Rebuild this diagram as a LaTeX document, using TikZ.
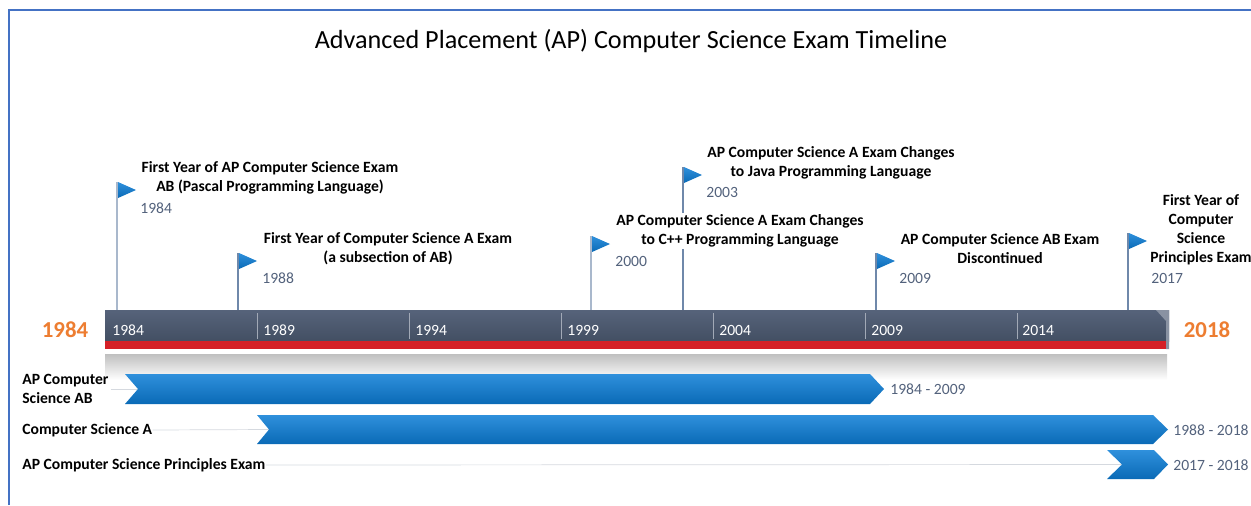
\documentclass[tikz,border=0pt]{standalone}
\usepackage{fontspec}
\setmainfont{Carlito}
\usepackage{xcolor}

\definecolor{framblue}{HTML}{4472C4}
\definecolor{slatetop}{HTML}{56637A}
\definecolor{slatebot}{HTML}{434F63}
\definecolor{barred}{HTML}{D42027}
\definecolor{chevtop}{HTML}{2F90DC}
\definecolor{chevbot}{HTML}{0A6AB6}
\definecolor{yeargray}{HTML}{53627C}
\definecolor{poleblue}{HTML}{6F88AA}
\definecolor{orangeyr}{HTML}{ED7D31}
\definecolor{linegray}{HTML}{D5D9DF}

\begin{document}
\begin{tikzpicture}[x=0.02cm, y=-0.02cm,
  evtitle/.style={font=\fontsize{8.9}{10.8}\selectfont\bfseries, align=center, fill=white, inner sep=1pt},
  evyear/.style={font=\fontsize{8.9}{10}\selectfont, text=yeargray, anchor=west, inner sep=0pt},
  ticklab/.style={font=\fontsize{8.9}{10}\selectfont, text=white, anchor=west, inner sep=0pt},
  rowlab/.style={font=\fontsize{8.9}{10.8}\selectfont\bfseries, align=left, anchor=west, inner sep=0pt},
  rangelab/.style={font=\fontsize{8.9}{10}\selectfont, text=yeargray, anchor=west, inner sep=0pt},
  endyear/.style={font=\fontsize{13}{14}\selectfont\bfseries, text=orangeyr},
  flagpole/.style={poleblue, line width=0.6pt},
  chevron/.style={top color=chevtop, bottom color=chevbot},
  flagtri/.style={top color=chevtop, bottom color=chevbot}]

  \useasboundingbox (0,0) rectangle (1251,505);

  % Draw the frame
  \draw[framblue, line width=1.2pt] (9,505) -- (9,10) -- (1251,10);

  % Title
  \node[font=\fontsize{14.9}{16}\selectfont] (title) at (631,41) {Advanced Placement (AP) Computer Science Exam Timeline};

  % Draw the time bar
  \shade[top color=slatetop, bottom color=slatebot] (105,310) rectangle (1169,341);
  \fill[barred] (105,341) rectangle (1166,349);
  \fill[slatetop!70!white] (1156,310) -- (1169,310) -- (1169,349) -- (1166,349) -- (1166,321) -- cycle;
  \shade[top color=gray!50, bottom color=white] (105,354) rectangle (1167,380);
  \coordinate (bartop) at (105,310);

  % tick separators and labels
  \draw[slatetop!55!white] (257,313) -- (257,339);
  \draw[slatetop!55!white] (409,313) -- (409,339);
  \draw[slatetop!55!white] (561,313) -- (561,339);
  \draw[slatetop!55!white] (713,313) -- (713,339);
  \draw[slatetop!55!white] (865,313) -- (865,339);
  \draw[slatetop!55!white] (1017,313) -- (1017,339);
  \node[ticklab] (k84) at (112,330) {1984};
  \node[ticklab] (k89) at (263,330) {1989};
  \node[ticklab] (k94) at (415,330) {1994};
  \node[ticklab] (k99) at (567,330) {1999};
  \node[ticklab] (k04) at (719,330) {2004};
  \node[ticklab] (k09) at (871,330) {2009};
  \node[ticklab] (k14) at (1022,330) {2014};

  % start and end years
  \node[endyear] (ystart) at (65,330) {1984};
  \node[endyear] (yend) at (1207,330) {2018};

  % flag poles
  \coordinate (p84) at (117,182);
  \coordinate (p88) at (238,253);
  \coordinate (p00) at (591,236);
  \coordinate (p03) at (683,167);
  \coordinate (p09) at (876,253);
  \coordinate (p17) at (1128,233);
  \draw[flagpole, poleblue!60!white] (p84) -- (p84 |- bartop);
  \draw[flagpole] (p88) -- (p88 |- bartop);
  \draw[flagpole, poleblue!60!white] (p00) -- (p00 |- bartop);
  \draw[flagpole] (p03) -- (p03 |- bartop);
  \draw[flagpole] (p09) -- (p09 |- bartop);
  \draw[flagpole] (p17) -- (p17 |- bartop);

  % flags
  \shade[flagtri] ([xshift=0.02cm]p84) -- ++(18,8) -- ++(-18,8) -- cycle;
  \shade[flagtri] ([xshift=0.02cm]p88) -- ++(18,8) -- ++(-18,8) -- cycle;
  \shade[flagtri] ([xshift=0.02cm]p00) -- ++(18,8) -- ++(-18,8) -- cycle;
  \shade[flagtri] ([xshift=0.02cm]p03) -- ++(18,8) -- ++(-18,8) -- cycle;
  \shade[flagtri] ([xshift=0.02cm]p09) -- ++(18,8) -- ++(-18,8) -- cycle;
  \shade[flagtri] ([xshift=0.02cm]p17) -- ++(18,8) -- ++(-18,8) -- cycle;

  % event texts
  \node[evtitle] (t84) at (270,177.5) {First Year of AP Computer Science Exam\\AB (Pascal Programming Language)};
  \node[evyear] (y84) at (140,208) {1984};
  \node[evtitle] (t88) at (388,248.5) {First Year of Computer Science A Exam\\(a subsection of AB)};
  \node[evyear] (y88) at (262,278) {1988};
  \node[evtitle] (t00) at (740,231) {AP Computer Science A Exam Changes\\to C++ Programming Language};
  \node[evyear] (y00) at (615,261) {2000};
  \node[evtitle] (t03) at (831,162.5) {AP Computer Science A Exam Changes\\to Java Programming Language};
  \node[evyear] (y03) at (706,192) {2003};
  \node[evtitle] (t09) at (1000,248.5) {AP Computer Science AB Exam\\Discontinued};
  \node[evyear] (y09) at (899,278) {2009};
  \node[evtitle] (t17) at (1201,229.5) {First Year of\\Computer\\Science\\Principles Exam};
  \node[evyear] (y17) at (1151,278) {2017};

  % row labels and leader lines
  \node[rowlab] (rab) at (22,389) {AP Computer\\Science AB};
  \node[rowlab] (ra) at (22,430) {Computer Science A};
  \node[rowlab] (rp) at (22,465) {AP Computer Science Principles Exam};
  \coordinate (sab) at (138,389);
  \coordinate (sa) at (269,429.5);
  \coordinate (sp) at (1122,464.5);
  \draw[linegray] ([xshift=0.04cm]rab.east |- sab) -- (sab);
  \draw[linegray] (ra.east) -- (sa);
  \draw[linegray] (rp.east) -- (sp);

  % Draw the period bars
  \shade[chevron] (125,374) -- (870,374) -- (884,389) -- (870,404) -- (125,404) -- (sab) -- cycle;
  \shade[chevron] (257,415) -- (1153,415) -- (1168,429.5) -- (1153,444) -- (257,444) -- (sa) -- cycle;
  \shade[chevron] (1107,450) -- (1154,450) -- (1168,464.5) -- (1154,479) -- (1107,479) -- (sp) -- cycle;

  % period labels
  \node[rangelab] (gab) at (890,389) {1984 - 2009};
  \node[rangelab] (ga) at (1173,430) {1988 - 2018};
  \node[rangelab] (gp) at (1173,465) {2017 - 2018};

\end{tikzpicture}
\end{document}
